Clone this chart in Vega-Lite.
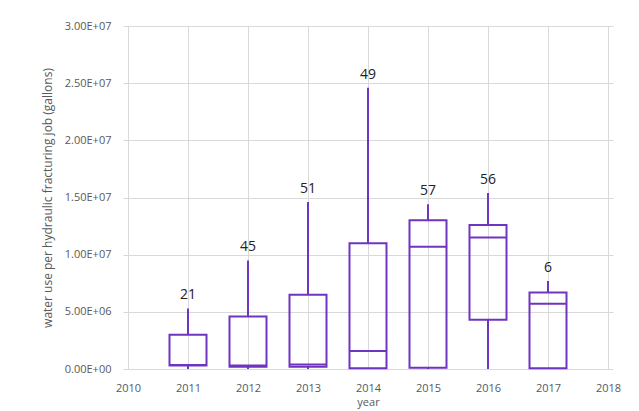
{
  "$schema": "https://vega.github.io/schema/vega-lite/v6.json",
  "width": 490,
  "height": 343,
  "autosize": {"type": "none"},
  "padding": {"left": 123, "top": 26, "right": 26, "bottom": 42},
  "background": "white",
  "config": {
    "view": {"stroke": null},
    "font": "Open Sans"
  },
  "data": {
    "values": [
      {"year": 2011, "lo": 0, "q1": 300000, "median": 350000, "q3": 3000000, "hi": 5300000, "n": "21"},
      {"year": 2012, "lo": 0, "q1": 200000, "median": 300000, "q3": 4600000, "hi": 9500000, "n": "45"},
      {"year": 2013, "lo": 0, "q1": 200000, "median": 400000, "q3": 6500000, "hi": 14600000, "n": "51"},
      {"year": 2014, "lo": 0, "q1": 60000, "median": 1580000, "q3": 11000000, "hi": 24600000, "n": "49"},
      {"year": 2015, "lo": 0, "q1": 100000, "median": 10700000, "q3": 13000000, "hi": 14400000, "n": "57"},
      {"year": 2016, "lo": 0, "q1": 4300000, "median": 11500000, "q3": 12600000, "hi": 15400000, "n": "56"},
      {"year": 2017, "lo": 0, "q1": 60000, "median": 5700000, "q3": 6700000, "hi": 7700000, "n": "6"}
    ]
  },
  "encoding": {
    "x": {
      "field": "year",
      "type": "quantitative",
      "scale": {"domain": [2010, 2018], "nice": false, "zero": false},
      "axis": {
        "title": "year",
        "values": [2010, 2011, 2012, 2013, 2014, 2015, 2016, 2017, 2018],
        "format": "d",
        "grid": true,
        "gridColor": "#d9d9d9",
        "domain": false,
        "ticks": false,
        "labelPadding": 13,
        "labelFontSize": 11,
        "labelColor": "#595959",
        "titleFontSize": 11,
        "titleFontWeight": "normal",
        "titleColor": "#595959",
        "titlePadding": 3
      }
    }
  },
  "layer": [
    {
      "mark": {"type": "rule", "color": "#6f35c0", "strokeWidth": 2},
      "encoding": {
        "y": {
          "field": "q3",
          "type": "quantitative",
          "scale": {"domain": [0, 30000000], "nice": false},
          "axis": {
            "title": "water use per hydraulic fracturing job (gallons)",
            "values": [0, 5000000, 10000000, 15000000, 20000000, 25000000, 30000000],
            "labelExpr": "replace(format(datum.value, '.2e'), 'e+', 'E+0')",
            "grid": true,
            "gridColor": "#d9d9d9",
            "domain": false,
            "ticks": false,
            "labelPadding": 12,
            "labelFontSize": 11,
            "labelColor": "#595959",
            "titleFontSize": 12,
            "titleFontWeight": "normal",
            "titleColor": "#595959",
            "titlePadding": 10
          }
        },
        "y2": {"field": "hi"}
      }
    },
    {
      "mark": {"type": "rule", "color": "#6f35c0", "strokeWidth": 2},
      "encoding": {
        "y": {"field": "lo", "type": "quantitative"},
        "y2": {"field": "q1"}
      }
    },
    {
      "mark": {"type": "bar", "width": 37, "fill": "white", "fillOpacity": 0, "stroke": "#6f35c0", "strokeWidth": 2},
      "encoding": {
        "y": {"field": "q1", "type": "quantitative"},
        "y2": {"field": "q3"}
      }
    },
    {
      "mark": {"type": "tick", "color": "#6f35c0", "opacity": 1, "size": 37, "thickness": 2, "orient": "horizontal"},
      "encoding": {
        "y": {"field": "median", "type": "quantitative"}
      }
    },
    {
      "mark": {"type": "text", "baseline": "bottom", "dy": -6, "fontSize": 14, "fontWeight": 500, "color": "#222222"},
      "encoding": {
        "y": {"field": "hi", "type": "quantitative"},
        "text": {"field": "n", "type": "nominal"}
      }
    }
  ]
}
